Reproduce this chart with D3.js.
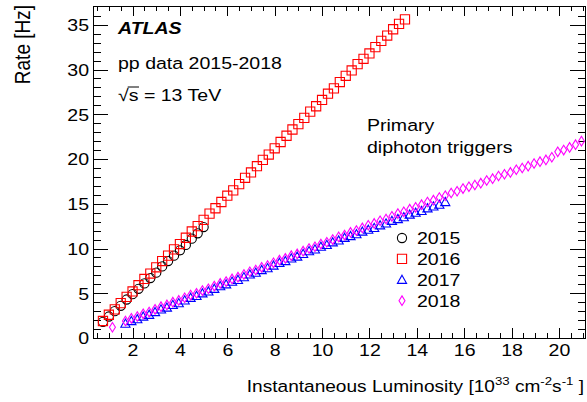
<!DOCTYPE html>
<html>
  <head>
    <meta charset="utf-8">
    <title>Primary diphoton trigger rates</title>
    <script src="https://cdn.jsdelivr.net/npm/d3@7"></script>
    <style>
      body { margin: 0; background: #fff; }
      svg { display: block; font-family: "Liberation Sans", Arial, Helvetica, sans-serif; }
    </style>
  </head>
  <body>
    <div id="chart"></div>
    <script>
      // chart values
      const years = ["2015", "2016", "2017", "2018"];
      const lumi2015 = [0.75, 1.00, 1.25, 1.50, 1.75, 2.00, 2.25, 2.50, 2.75, 3.00, 3.25, 3.50, 3.75, 4.00, 4.25, 4.50, 4.75, 5.00];
      const rate2015 = [1.8, 2.4, 3.0, 3.6, 4.3, 4.9, 5.5, 6.1, 6.7, 7.3, 8.0, 8.6, 9.2, 9.8, 10.4, 11.1, 11.7, 12.4];
      const lumi2016 = [0.75, 1.00, 1.25, 1.50, 1.75, 2.00, 2.25, 2.50, 2.75, 3.00, 3.25, 3.50, 3.75, 4.00, 4.25, 4.50, 4.75, 5.00,
        5.25, 5.50, 5.75, 6.00, 6.25, 6.50, 6.75, 7.00, 7.25, 7.50, 7.75, 8.00, 8.25, 8.50, 8.75, 9.00, 9.25, 9.50,
        9.75, 10.00, 10.25, 10.50, 10.75, 11.00, 11.25, 11.50, 11.75, 12.00, 12.25, 12.50, 12.75, 13.00, 13.25, 13.50];
      const rate2016 = [1.9, 2.6, 3.2, 3.9, 4.6, 5.2, 5.9, 6.6, 7.2, 7.9, 8.6, 9.2, 9.9, 10.5, 11.2, 11.9, 12.5, 13.2,
        13.9, 14.5, 15.2, 15.9, 16.5, 17.2, 17.9, 18.5, 19.2, 19.9, 20.5, 21.2, 21.9, 22.6, 23.3, 23.9, 24.6, 25.3,
        25.9, 26.6, 27.3, 27.9, 28.6, 29.3, 29.9, 30.6, 31.2, 31.8, 32.5, 33.2, 33.8, 34.5, 35.1, 35.6];
      const lumi2017 = [1.70, 1.95, 2.20, 2.45, 2.70, 2.95, 3.20, 3.45, 3.70, 3.95, 4.20, 4.45, 4.70, 4.95, 5.20, 5.45,
        5.70, 5.95, 6.20, 6.45, 6.70, 6.95, 7.20, 7.45, 7.70, 7.95, 8.20, 8.45, 8.70, 8.95, 9.20, 9.45, 9.70, 9.95,
        10.20, 10.45, 10.70, 10.95, 11.20, 11.45, 11.70, 11.95, 12.20, 12.45, 12.70, 12.95, 13.20, 13.45, 13.70, 13.95,
        14.20, 14.45, 14.70, 14.95, 15.20];
      const rate2017 = [1.6, 1.9, 2.1, 2.4, 2.6, 2.9, 3.2, 3.4, 3.7, 3.9, 4.2, 4.5, 4.7, 5.0, 5.2, 5.5,
        5.8, 6.0, 6.3, 6.5, 6.8, 7.1, 7.3, 7.6, 7.8, 8.1, 8.4, 8.6, 8.9, 9.1, 9.4, 9.7, 9.9, 10.2,
        10.4, 10.7, 10.9, 11.2, 11.4, 11.6, 11.9, 12.1, 12.3, 12.6, 12.8, 13.1, 13.3, 13.5, 13.8, 14.0,
        14.2, 14.5, 14.7, 14.9, 15.2];
      const lumi2018 = [1.15, 1.70, 1.95, 2.20, 2.45, 2.70, 2.95, 3.20, 3.45, 3.70, 3.95, 4.20, 4.45, 4.70, 4.95, 5.20, 5.45,
        5.70, 5.95, 6.20, 6.45, 6.70, 6.95, 7.20, 7.45, 7.70, 7.95, 8.20, 8.45, 8.70, 8.95, 9.20, 9.45, 9.70, 9.95,
        10.20, 10.45, 10.70, 10.95, 11.20, 11.45, 11.70, 11.95, 12.20, 12.45, 12.70, 12.95, 13.20, 13.45, 13.70, 13.95,
        14.20, 14.45, 14.70, 14.95, 15.20, 15.45, 15.70, 15.95, 16.20, 16.45, 16.70, 16.95, 17.20, 17.45, 17.70, 17.95,
        18.20, 18.45, 18.70, 18.95, 19.20, 19.45, 19.70, 19.95, 20.20, 20.45, 20.70, 20.95];
      const rate2018 = [1.2, 1.9, 2.2, 2.4, 2.7, 2.9, 3.2, 3.5, 3.7, 4.0, 4.2, 4.5, 4.8, 5.0, 5.3, 5.5, 5.8,
        6.1, 6.3, 6.6, 6.8, 7.1, 7.4, 7.6, 7.9, 8.1, 8.4, 8.7, 8.9, 9.2, 9.4, 9.7, 10.0, 10.2, 10.5,
        10.7, 11.0, 11.3, 11.5, 11.8, 12.0, 12.3, 12.6, 12.8, 13.1, 13.3, 13.6, 13.9, 14.1, 14.4, 14.6,
        14.9, 15.2, 15.4, 15.7, 15.9, 16.2, 16.4, 16.7, 16.9, 17.1, 17.3, 17.6, 17.8, 18.1, 18.3, 18.5,
        18.8, 19.0, 19.2, 19.5, 19.7, 19.9, 20.2, 20.8, 21.0, 21.3, 21.6, 22.0];
      const xTicks = [2, 4, 6, 8, 10, 12, 14, 16, 18, 20];
      const yTicks = [0, 5, 10, 15, 20, 25, 30, 35];

      const W = 587, H = 402;
      const frame = { left: 93, right: 585, top: 6, bottom: 338 };
      const SX = 1.15; // the source image is a bit stretched sideways

      const svg = d3.select("#chart").append("svg")
        .attr("width", W)
        .attr("height", H);

      const x = d3.scaleLinear().domain([0.33, 21.1]).range([frame.left, frame.right]);
      const y = d3.scaleLinear().domain([0, 37.1]).range([frame.bottom, frame.top]);

      // minor tick positions
      const xMinor = d3.range(0.5, 21.01, 0.5).filter(v => !xTicks.includes(v));
      const yMinor = d3.range(1, 37, 1).filter(v => !yTicks.includes(v));

      function axis(gen, tx, ty, values, size, labels) {
        const g = svg.append("g")
          .attr("transform", `translate(${tx},${ty})`)
          .call(gen.tickValues(values).tickSize(size).tickSizeOuter(0)
            .tickFormat(labels ? d3.format("d") : ""));
        g.attr("font-family", null).attr("font-size", null);
        g.select(".domain").remove();
        g.selectAll("line").attr("stroke", "#000").attr("shape-rendering", "crispEdges");
        return g;
      }

      // ticks on all four sides, pointing inward
      const left = axis(d3.axisLeft(y), frame.left, 0, yTicks, -15, true);
      axis(d3.axisLeft(y), frame.left, 0, yMinor, -7.5, false);
      axis(d3.axisRight(y), frame.right, 0, yTicks, -15, false);
      axis(d3.axisRight(y), frame.right, 0, yMinor, -7.5, false);
      const bottom = axis(d3.axisBottom(x), 0, frame.bottom, xTicks, -10, true);
      axis(d3.axisBottom(x), 0, frame.bottom, xMinor, -5, false);
      axis(d3.axisTop(x), 0, frame.top, xTicks, -10, false);
      axis(d3.axisTop(x), 0, frame.top, xMinor, -5, false);

      left.selectAll("text")
        .attr("font-size", 17)
        .attr("fill", "#000")
        .attr("x", -4 / SX)
        .attr("dy", "0.35em")
        .attr("transform", `scale(${SX},1)`);
      bottom.selectAll("text")
        .attr("font-size", 17)
        .attr("fill", "#000")
        .attr("y", 18)
        .attr("dy", 0)
        .attr("transform", `scale(${SX},1)`);

      svg.append("rect")
        .attr("x", frame.left)
        .attr("y", frame.top)
        .attr("width", frame.right - frame.left)
        .attr("height", frame.bottom - frame.top)
        .attr("fill", "none")
        .attr("stroke", "#000")
        .attr("shape-rendering", "crispEdges");

      // markers
      const markers = {
        circle: "M4.6,0A4.6,4.6 0 1,1 -4.6,0A4.6,4.6 0 1,1 4.6,0Z",
        square: "M-4.6,-4.6H4.6V4.6H-4.6Z",
        triangle: "M0,-4.6L4.6,3.6H-4.6Z",
        diamond: "M0,-4.8L3,0L0,4.8L-3,0Z"
      };
      const series = [
        { year: years[0], lumi: lumi2015, rate: rate2015, color: "#000000", shape: "circle" },
        { year: years[1], lumi: lumi2016, rate: rate2016, color: "#ff0000", shape: "square" },
        { year: years[2], lumi: lumi2017, rate: rate2017, color: "#0000ff", shape: "triangle" },
        { year: years[3], lumi: lumi2018, rate: rate2018, color: "#ff00ff", shape: "diamond" }
      ];

      series.forEach(s => {
        svg.append("g")
          .selectAll("path")
          .data(s.lumi.map((l, i) => [l, s.rate[i]]))
          .enter().append("path")
            .attr("d", markers[s.shape])
            .attr("transform", d => `translate(${x(d[0])},${y(d[1])})`)
            .attr("fill", "none")
            .attr("stroke", s.color)
            .attr("stroke-width", 1.1);
      });

      // text helper, stretched to match the source
      function label(x0, y0, str, size, extra) {
        const t = svg.append("text")
          .attr("transform", `translate(${x0},${y0}) scale(${SX},1)`)
          .attr("font-size", size)
          .attr("fill", "#000")
          .text(str);
        if (extra) extra(t);
        return t;
      }

      label(118, 34, "ATLAS", 17, t => t.attr("font-weight", "bold").attr("font-style", "italic"));
      label(118, 69, "pp data 2015-2018", 17);
      const rs = label(118, 101, "\u221As = 13 TeV", 17);
      // bar over the s
      const rn = rs.node();
      const s0 = rn.getSubStringLength(0, 1) * SX, s1 = rn.getSubStringLength(0, 2) * SX;
      svg.append("line")
        .attr("x1", 118 + s0 - 1).attr("x2", 118 + s1 + 0.5)
        .attr("y1", 101 - 14).attr("y2", 101 - 14)
        .attr("stroke", "#000").attr("stroke-width", 1);

      label(367, 131, "Primary", 17);
      label(367, 153, "diphoton triggers", 17);

      // legend
      series.forEach((s, i) => {
        const by = 244 + i * 20.9;
        svg.append("path")
          .attr("d", markers[s.shape])
          .attr("transform", `translate(402,${by - 6})`)
          .attr("fill", "none")
          .attr("stroke", s.color)
          .attr("stroke-width", 1.1);
        label(417, by, s.year, 17);
      });

      // axis titles
      svg.append("text")
        .attr("transform", `translate(30,5) rotate(-90) scale(1,${SX})`)
        .attr("text-anchor", "end")
        .attr("font-size", 19)
        .attr("fill", "#000")
        .text("Rate [Hz]");

      const xt = svg.append("text")
        .attr("transform", `translate(584,392) scale(${SX},1)`)
        .attr("text-anchor", "end")
        .attr("font-size", 16.6)
        .attr("fill", "#000");
      xt.append("tspan").text("Instantaneous Luminosity [10");
      xt.append("tspan").attr("font-size", 11.5).attr("dy", -7).text("33");
      xt.append("tspan").attr("dy", 7).text(" cm");
      xt.append("tspan").attr("font-size", 11.5).attr("dy", -7).text("-2");
      xt.append("tspan").attr("dy", 7).text("s");
      xt.append("tspan").attr("font-size", 11.5).attr("dy", -7).text("-1");
      xt.append("tspan").attr("dy", 7).text(" ]");
    </script>
  </body>
</html>
